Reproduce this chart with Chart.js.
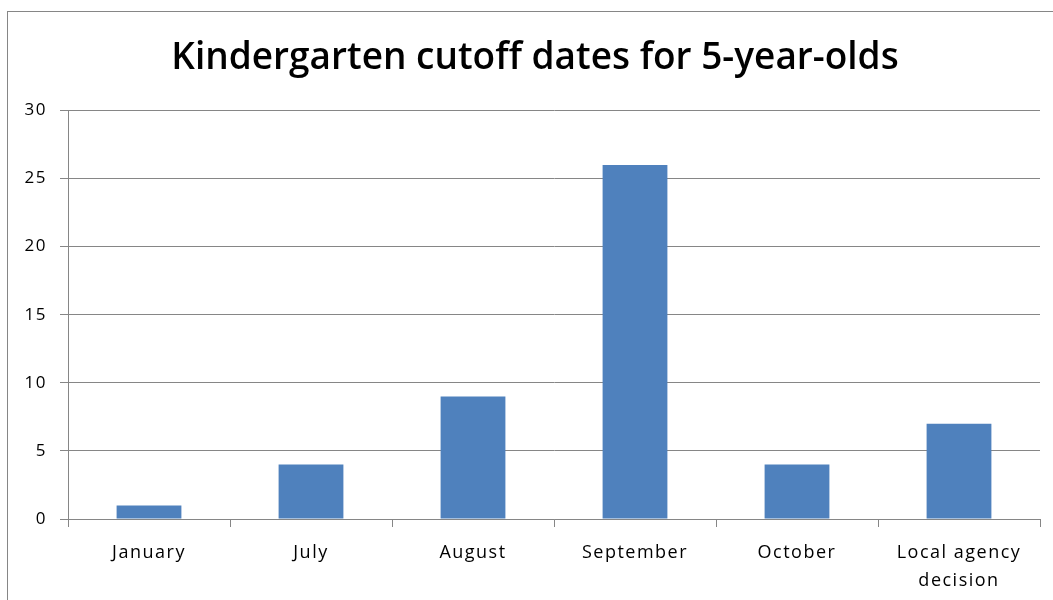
<!DOCTYPE html>
<html>
<head>
<meta charset="utf-8">
<script src="https://cdn.jsdelivr.net/npm/chart.js@4"></script>
<style>
  html, body { margin: 0; padding: 0; background: #fff; overflow: hidden; }
  #wrap { position: relative; width: 1053px; height: 600px; }
  #frame { position: absolute; left: 7px; top: 11px; width: 1100px; height: 700px;
           border: 1px solid #868686; box-sizing: border-box; }
  canvas { position: absolute; left: 0; top: 0; }
</style>
</head>
<body>
<div id="wrap">
  <div id="frame"></div>
  <canvas id="chart" width="1053" height="600"></canvas>
</div>
<script>
const categories = ['January', 'July', 'August', 'September', 'October', ['Local agency', 'decision']];
const counts = [1, 4, 9, 26, 4, 7];
const yTicks = [0, 5, 10, 15, 20, 25, 30];

const axisGray = '#868686';

// the old office renderer spaces the axis letters out a bit, not the title;
// the title also sits centred on the frame rather than the canvas
const spacing = {
  id: 'spacing',
  afterInit: chart => {
    const tb = chart.titleBlock;
    const orig = tb.draw;
    tb.draw = function () {
      const ctx = this.ctx;
      ctx.save();
      ctx.letterSpacing = '0px';
      ctx.translate(15, 0);
      orig.apply(this, arguments);
      ctx.restore();
    };
  },
  beforeUpdate: chart => { chart.ctx.letterSpacing = '1.5px'; },
  beforeDraw: chart => { chart.ctx.letterSpacing = '1.5px'; }
};

new Chart(document.getElementById('chart'), {
  type: 'bar',
  plugins: [spacing],
  data: {
    labels: categories,
    datasets: [{
      data: counts,
      backgroundColor: '#4F81BD',
      borderWidth: 0,
      categoryPercentage: 1,
      barPercentage: 0.4
    }]
  },
  options: {
    responsive: false,
    animation: false,
    layout: { padding: { top: 11, right: 13, bottom: 0, left: 0 } },
    plugins: {
      legend: { display: false },
      tooltip: { enabled: false },
      title: {
        display: true,
        text: 'Kindergarten cutoff dates for 5-year-olds',
        color: '#000',
        font: { family: 'Open Sans', size: 37, weight: '600', lineHeight: 1.2 },
        padding: { top: 25, bottom: 30 }
      }
    },
    scales: {
      x: {
        grid: { offset: true, drawOnChartArea: false, tickLength: 8, color: axisGray },
        border: { color: axisGray },
        ticks: {
          color: '#000',
          padding: 12,
          maxRotation: 0,
          font: { family: 'Open Sans', size: 18, lineHeight: 1.55 }
        },
        afterFit: s => { s.height = 81; }
      },
      y: {
        min: 0,
        max: 30,
        afterBuildTicks: s => { s.ticks = yTicks.map(v => ({ value: v })); },
        grid: { color: axisGray, tickLength: 8 },
        border: { color: axisGray },
        ticks: {
          color: '#000',
          padding: 13,
          font: { family: 'Open Sans', size: 17 }
        },
        afterFit: s => { s.width = 68; }
      }
    }
  }
});
</script>
</body>
</html>
